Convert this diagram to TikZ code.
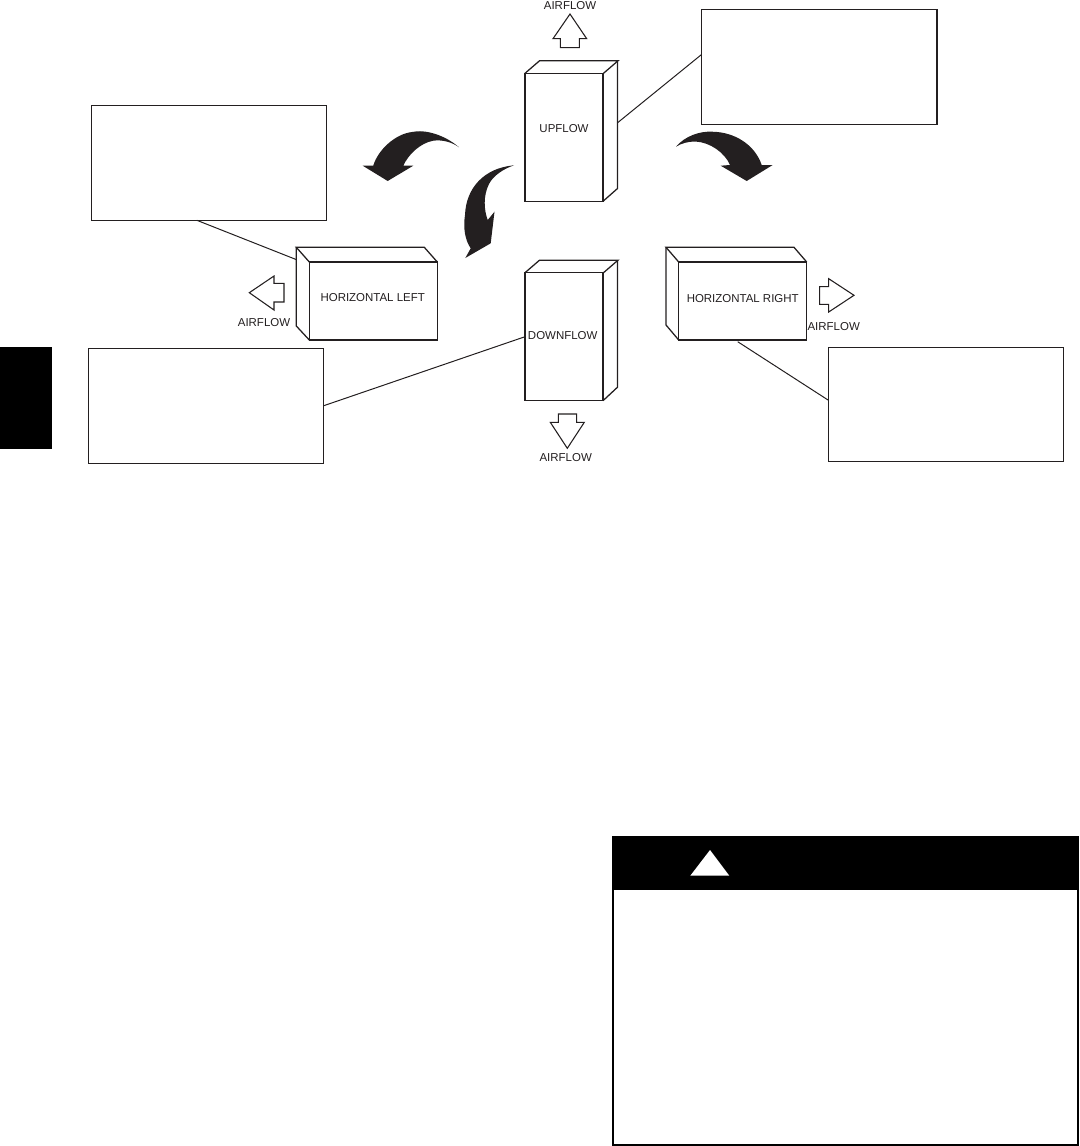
\documentclass[tikz,border=0pt]{standalone}
\usepackage{fontspec}
\setmainfont{Liberation Sans}
\usepackage{xcolor}
\usepackage{tikz}
\usetikzlibrary{positioning,calc}
\definecolor{ink}{HTML}{231f20}
\tikzset{cabface/.style={draw=ink, line width=0.95pt, minimum width=58.5pt, minimum height=96pt, inner sep=0pt, outer sep=0pt},
         cabwide/.style={cabface, minimum width=96pt, minimum height=58.5pt},
         cabedge/.style={draw=ink, line width=0.95pt, line join=miter},
         cablbl/.style={font=\fontsize{8.6}{10}\selectfont, text=ink, inner sep=0pt},
         notebox/.style={draw=ink, line width=0.9pt, minimum width=176.5pt, minimum height=86.2pt, inner sep=0pt, outer sep=0pt},
         leadline/.style={draw=ink, line width=0.75pt},
         flowarr/.style={draw=ink, line width=0.8pt, fill=white, line join=miter},
         turnarr/.style={fill=ink, draw=none}}

\begin{document}
\begin{tikzpicture}[x=0.75pt, y=-0.75pt]
\useasboundingbox (0,0) rectangle (1079,1146);
% side tab
\node[fill=black, minimum width=39pt, minimum height=76.5pt, inner sep=0pt, outer sep=0pt] (tab) at (26,398) {};
% cabinets
\node[cabface] (up) at (564,137.3) {};
\draw[cabedge] (up.north west) -- ++(14.5,-12.5) -- ++(78.5,0) -- ++(-14.5,12.5);
\draw[cabedge] (up.north east) ++(14.5,-12.5) -- ++(0,127.7) -- (up.south east);
\node[cablbl] (uplbl) at (564,128.5) {UPFLOW};
\node[cabface] (down) at (564,336.7) {};
\draw[cabedge] (down.north west) -- ++(14.5,-12.5) -- ++(78.5,0) -- ++(-14.5,12.5);
\draw[cabedge] (down.north east) ++(14.5,-12.5) -- ++(0,127) -- (down.south east);
\node[cablbl] (downlbl) at (562.7,336) {DOWNFLOW};
\node[cabwide] (hleft) at (373.3,301) {};
\draw[cabedge] (hleft.north east) -- ++(-13,-14.7) -- ++(-128,0) -- ++(13,14.7);
\draw[cabedge] (hleft.south west) -- ++(-13,-14) -- ++(0,-78.7);
\node[cablbl] (hleftlbl) at (372.7,298) {HORIZONTAL LEFT};
\node[cabwide] (hright) at (742.7,301) {};
\draw[cabedge] (hright.north east) -- ++(-12.7,-14.7) -- ++(-128,0) -- ++(12.7,14.7);
\draw[cabedge] (hright.south west) -- ++(-12.7,-15) -- ++(0,-77.7);
\node[cablbl] (hrightlbl) at (742.7,299) {HORIZONTAL RIGHT};
% airflow
\draw[flowarr] (570,14) -- (586.7,38.7) -- (579.3,38.7) -- (579.3,47.7) -- (560.3,47.7) -- (560.3,38.7) -- (553,38.7) -- cycle;
\node[cablbl] (upair) at (570,5.2) {AIRFLOW};
\draw[flowarr] (567.3,448.3) -- (584.3,422.3) -- (576.7,422.3) -- (576.7,414) -- (558.3,414) -- (558.3,422.3) -- (550.3,422.3) -- cycle;
\node[cablbl] (downair) at (565.7,457.7) {AIRFLOW};
\draw[flowarr] (249.3,292.7) -- (274,276) -- (274,283.3) -- (284,283.3) -- (284,302) -- (274,302) -- (274,310) -- cycle;
\node[cablbl] (leftair) at (264,322.3) {AIRFLOW};
\draw[flowarr] (854,295.3) -- (828.7,278.7) -- (828.7,286.7) -- (819.7,286.7) -- (819.7,304.3) -- (828.7,304.3) -- (828.7,312) -- cycle;
\node[cablbl] (rightair) at (833.7,326.3) {AIRFLOW};
% turning arrows
\fill[turnarr] (459,147.3) .. controls (445,135) and (425,129) .. (412,132) .. controls (395,134) and (378,150) .. (373.3,165.5) -- (362.7,165.7) -- (387.7,181) -- (413.3,165.7) -- (403.3,165.7) .. controls (408,155) and (420,143) .. (433.3,140.7) .. controls (442,139.5) and (452,142) .. (459,147.3) -- cycle;
\fill[turnarr] (676,146.7) .. controls (685,136) and (700,131) .. (712,131.7) .. controls (735,132) and (755,145) .. (761.7,165) -- (772.7,165) -- (746.7,181) -- (720.7,165.7) -- (730,165) .. controls (725,153) and (710,142) .. (695,141.5) .. controls (688,141.5) and (681,143.5) .. (676,146.7) -- cycle;
\fill[turnarr] (514,165.3) .. controls (484,168) and (466,188) .. (465,215) .. controls (463,228) and (465,240) .. (470.7,248.3) -- (465.3,258) -- (490.7,243.3) -- (494.5,211.7) -- (487.7,220) .. controls (484,210) and (483,196) .. (489,184) .. controls (493,176) and (503,169) .. (514,165.3) -- cycle;
% blank notes
\node[notebox] (upnote) at (819.3,66.8) {};
\node[notebox] (hleftnote) at (209,162.8) {};
\node[notebox] (downnote) at (205.8,405.8) {};
\node[notebox, minimum height=85.5pt] (hrightnote) at (946,404.3) {};
\draw[leadline] ($(up.east)+(14.5,-14.5)$) -- (upnote.174);
\draw[leadline] (hleftnote.258.5) -- ($(hleft.north west)+(-12.7,-2.3)$);
\draw[leadline] (downnote.east) -- (down.west);
\draw[leadline] ($(hright.south)+(-5,1.7)$) -- (hrightnote.178);
% warning panel
\node[draw=black, line width=1.5pt, minimum width=348.8pt, minimum height=231pt, inner sep=0pt, outer sep=0pt] (warnbox) at (845.5,991) {};
\node[fill=black, minimum width=350.2pt, minimum height=40.5pt, inner sep=0pt, outer sep=0pt] (warnhead) at (845.5,863) {};
\fill[white] (710,850) -- (729.3,875.7) -- (690.3,875.7) -- cycle;
\end{tikzpicture}
\end{document}
